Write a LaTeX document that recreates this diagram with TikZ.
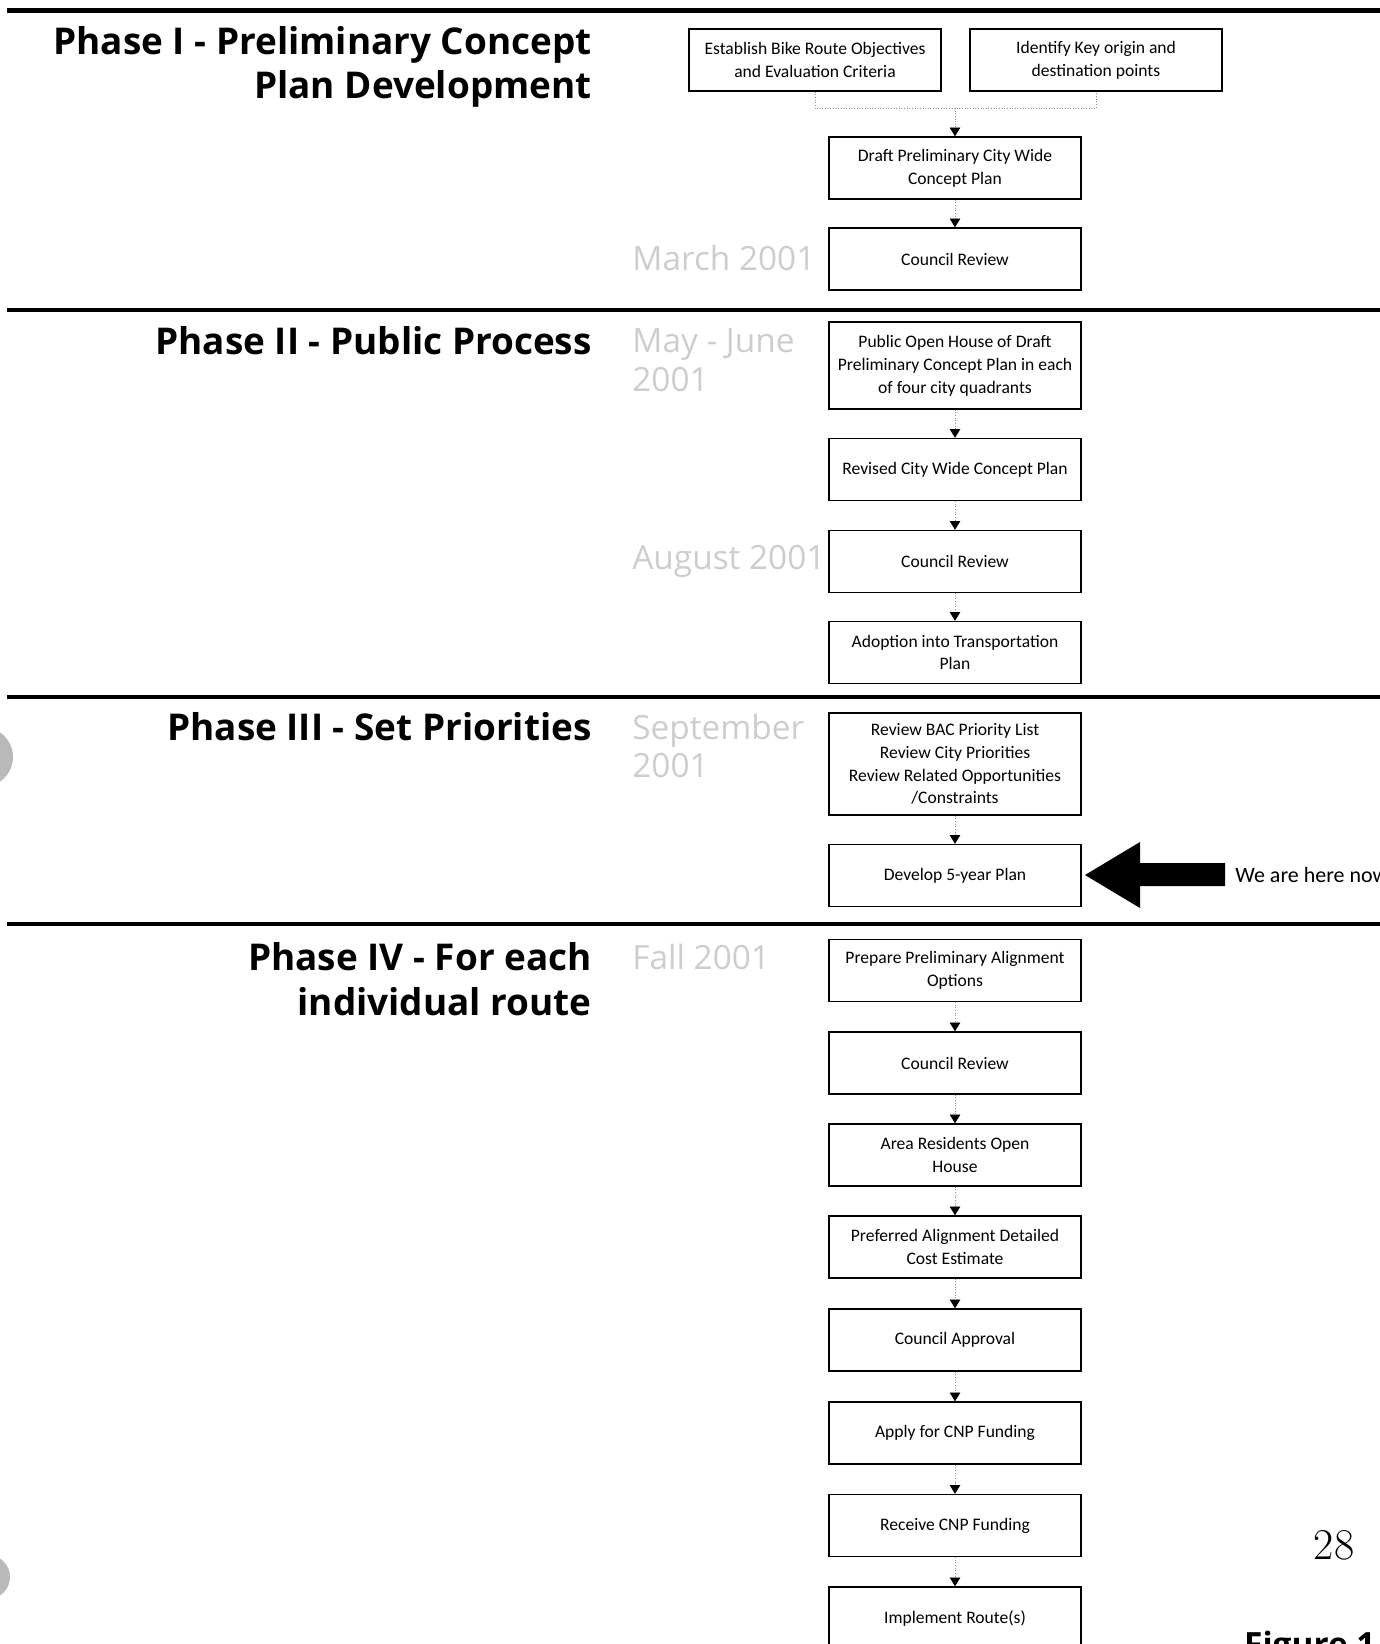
\documentclass[tikz,border=0pt]{standalone}
\usepackage{fontspec}
\setmainfont{Open Sans}
\newfontfamily\boxfont{Carlito}
\newfontfamily\pagefont{Latin Modern Roman}
\usepackage{xcolor}
\usetikzlibrary{shapes,arrows,arrows.meta,positioning,calc}
\definecolor{dategray}{RGB}{205,205,205}
\definecolor{holegray}{RGB}{185,185,185}
\tikzset{
    stepbox/.style={draw, line width=0.8pt, minimum width=5.04cm, minimum height=1.24cm,
        align=center, inner sep=2pt, font=\boxfont\fontsize{10}{13}\selectfont},
    flow/.style={draw=black!45, line width=0.5pt, densely dotted,
        -{Triangle[color=black, width=6pt, length=5pt]}},
    phaserule/.style={line width=2.4pt},
    phasetitle/.style={anchor=east, align=right, inner xsep=0pt,
        font=\bfseries\fontsize{21}{25.5}\selectfont},
    datelabel/.style={anchor=west, align=left, inner xsep=0pt, text=dategray,
        font=\fontsize{19}{22}\selectfont}
}

\begin{document}
\begin{tikzpicture}[x=0.02cm, y=-0.02cm]
    \useasboundingbox (0,0) rectangle (1380,1644);
    \clip (0,0) rectangle (1380,1644);

    % Punch holes
    \fill[holegray] (-17,757) circle (30);
    \fill[holegray] (-12,1577) circle (22);

    % Phase rules
    \draw[phaserule] (7,10.5) -- (1380,10.5);
    \draw[phaserule] (7,310) -- (1380,310);
    \draw[phaserule] (7,697) -- (1380,697);
    \draw[phaserule] (7,924) -- (1380,924);

    % Phase titles
    \node[phasetitle] (ph1) at (592,67) {Phase I - Preliminary Concept\\Plan Development};
    \node[phasetitle] (ph2) at (592,341) {Phase II - Public Process};
    \node[phasetitle] (ph3) at (592,727) {Phase III - Set Priorities};
    \node[phasetitle] (ph4) at (592,979) {Phase IV - For each\\individual route};

    % Dates
    \node[datelabel] (d1) at (632,258) {March 2001};
    \node[datelabel] (d2) at (632,360) {May - June\\2001};
    \node[datelabel] (d3) at (632,561) {August 2001};
    \node[datelabel] (d4) at (632,746) {September\\2001};
    \node[datelabel] (d5) at (632,957) {Fall 2001};

    % Phase I
    \node[stepbox] (obj) at (815,60) {Establish Bike Route Objectives\\and Evaluation Criteria};
    \node[stepbox] (keys) at (1096,60) {Identify Key origin and\\destination points};
    \node[stepbox] (draft) at (955,168) {Draft Preliminary City Wide\\Concept Plan};
    \node[stepbox] (rev1) at (955,259) {Council Review};

    % Phase II
    \node[stepbox, minimum height=1.74cm] (open) at (955,365.5) {Public Open House of Draft\\Preliminary Concept Plan in each\\of four city quadrants};
    \node[stepbox] (revised) at (955,469.5) {Revised City Wide Concept Plan};
    \node[stepbox] (rev2) at (955,561.5) {Council Review};
    \node[stepbox] (adopt) at (955,652.5) {Adoption into Transportation\\Plan};

    % Phase III
    \node[stepbox, minimum height=2.04cm] (prio) at (955,764) {Review BAC Priority List\\Review City Priorities\\Review Related Opportunities\\/Constraints};
    \node[stepbox] (five) at (955,875.5) {Develop 5-year Plan};

    % Phase IV
    \node[stepbox] (align) at (955,970.5) {Prepare Preliminary Alignment\\Options};
    \node[stepbox] (rev3) at (955,1063) {Council Review};
    \node[stepbox] (resid) at (955,1155) {Area Residents Open\\House};
    \node[stepbox] (pref) at (955,1247) {Preferred Alignment Detailed\\Cost Estimate};
    \node[stepbox] (appr) at (955,1340) {Council Approval};
    \node[stepbox] (apply) at (955,1433) {Apply for CNP Funding};
    \node[stepbox] (recv) at (955,1525.5) {Receive CNP Funding};
    \node[stepbox] (impl) at (955,1618) {Implement Route(s)};

    % Connectors (none across the phase rules)
    \coordinate (join) at (955,108);
    \draw[draw=black!45, line width=0.5pt, densely dotted] (obj.south) |- (join) -| (keys.south);
    \draw[flow] (join) -- (draft);
    \foreach \a/\b in {draft/rev1, open/revised, revised/rev2, rev2/adopt, prio/five,
        align/rev3, rev3/resid, resid/pref, pref/appr, appr/apply, apply/recv, recv/impl} {
        \draw[flow] (\a) -- (\b);
    }

    % We are here now
    \node[anchor=west, inner xsep=0pt, font=\boxfont\fontsize{12.5}{15}\selectfont] (now) at (1235,875) {We are here now};
    \fill (1085,875) -- (1140,842) -- (1140,863) -- (1225,863) -- (1225,886)
        -- (1140,886) -- (1140,908) -- cycle;

    % Page number and caption
    \node[font=\pagefont\fontsize{25}{28}\selectfont] (page) at (1334,1545) {28};
    \node[anchor=west, font=\bfseries\fontsize{19}{24}\selectfont] (fig) at (1238,1648) {Figure 1};

\end{tikzpicture}
\end{document}
